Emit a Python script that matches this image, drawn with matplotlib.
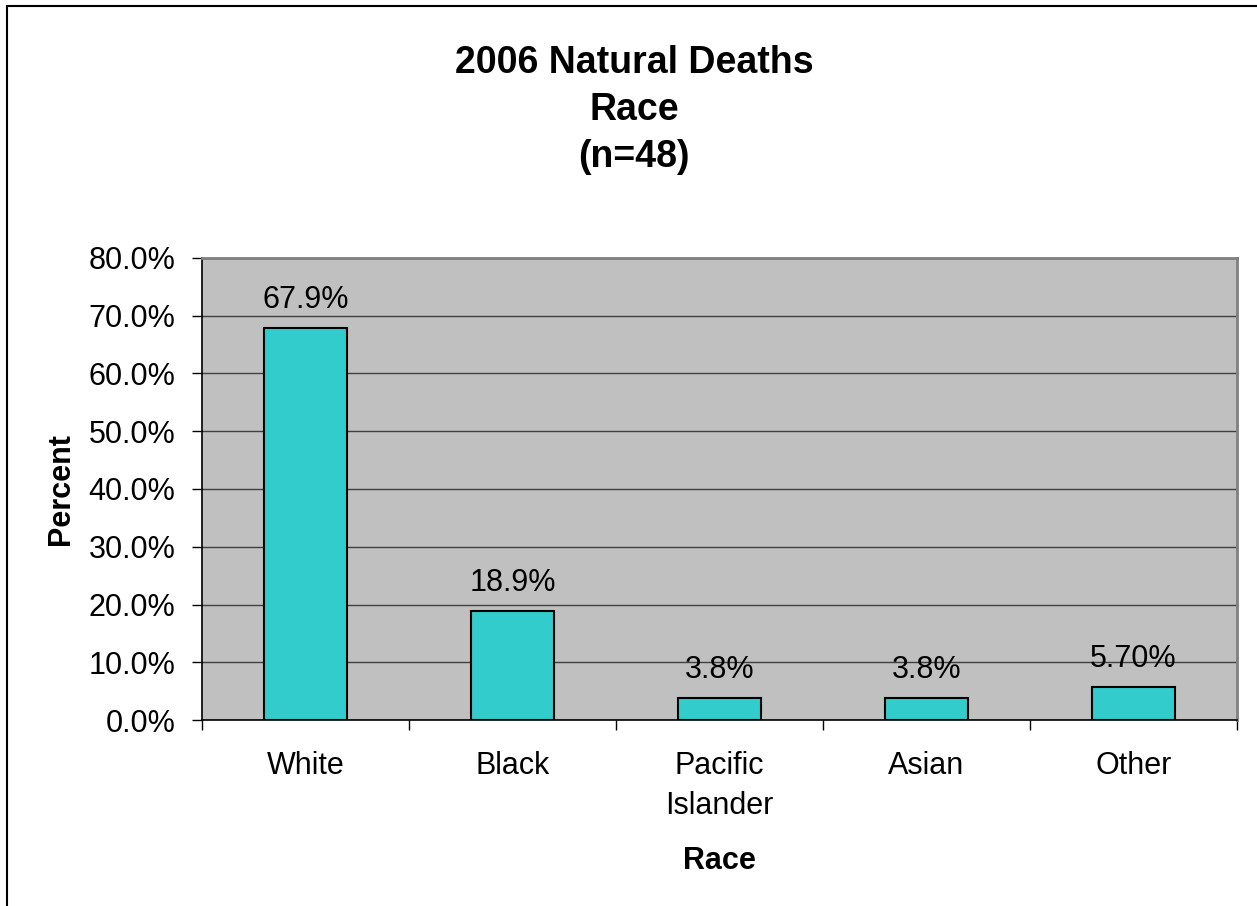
import matplotlib.pyplot as plt
import matplotlib.patches as patches
from matplotlib.ticker import FuncFormatter, FixedLocator

plt.rcParams['font.family'] = ['Liberation Sans', 'DejaVu Sans']

# Data
races = ["White", "Black", "Pacific\nIslander", "Asian", "Other"]
percents = [67.9, 18.9, 3.8, 3.8, 5.7]
bar_labels = ["67.9%", "18.9%", "3.8%", "3.8%", "5.70%"]
yticks = [0, 10, 20, 30, 40, 50, 60, 70, 80]

fig = plt.figure(figsize=(12.57, 9.06), dpi=100)
W, H = 1257, 906

# outer chart border (cut off at right/bottom)
fig.patches.append(patches.Rectangle((7 / W, -0.1), 1.2, 1 - 6 / H + 0.1,
                                     transform=fig.transFigure, fill=False,
                                     edgecolor='black', linewidth=1.5))

ax = fig.add_axes([202 / W, (H - 720) / H, (1237 - 202) / W, (720 - 258) / H])
ax.set_facecolor('#C0C0C0')

x = range(len(races))
ax.bar(x, percents, width=0.4, color='#33CCCC', edgecolor='black', linewidth=1.5, zorder=3)

for xi, v, lab in zip(x, percents, bar_labels):
    ax.text(xi, v + 4.9, lab, ha='center', va='center', fontsize=22, zorder=4)

ax.set_xlim(-0.5, len(races) - 0.5)
ax.set_ylim(0, 80)
ax.set_yticks(yticks)
ax.yaxis.set_major_formatter(FuncFormatter(lambda v, p: f"{v:.1f}%"))
ax.grid(axis='y', color='#404040', linewidth=1, zorder=1)

ax.set_xticks(list(x))
ax.set_xticklabels(races, fontsize=22, linespacing=1.45)
ax.xaxis.set_minor_locator(FixedLocator([i + 0.5 for i in range(-1, len(races))]))
ax.tick_params(axis='x', which='major', length=0, pad=22)
ax.tick_params(axis='x', which='minor', length=7, width=1)
ax.tick_params(axis='y', length=7, width=1, labelsize=22, pad=12)

for s in ['left', 'bottom']:
    ax.spines[s].set_color('black')
    ax.spines[s].set_linewidth(1.2)
for s in ['top', 'right']:
    ax.spines[s].set_color('#808080')
    ax.spines[s].set_linewidth(2)

ax.set_ylabel("Percent", fontsize=22, fontweight='bold', labelpad=9)
ax.set_xlabel("Race", fontsize=22, fontweight='bold', labelpad=18)

fig.text(634 / W, 1 - 110 / H, "2006 Natural Deaths\nRace\n(n=48)", ha='center', va='center',
         fontsize=27, fontweight='bold', linespacing=1.38)

fig.savefig("out.png", dpi=100)
